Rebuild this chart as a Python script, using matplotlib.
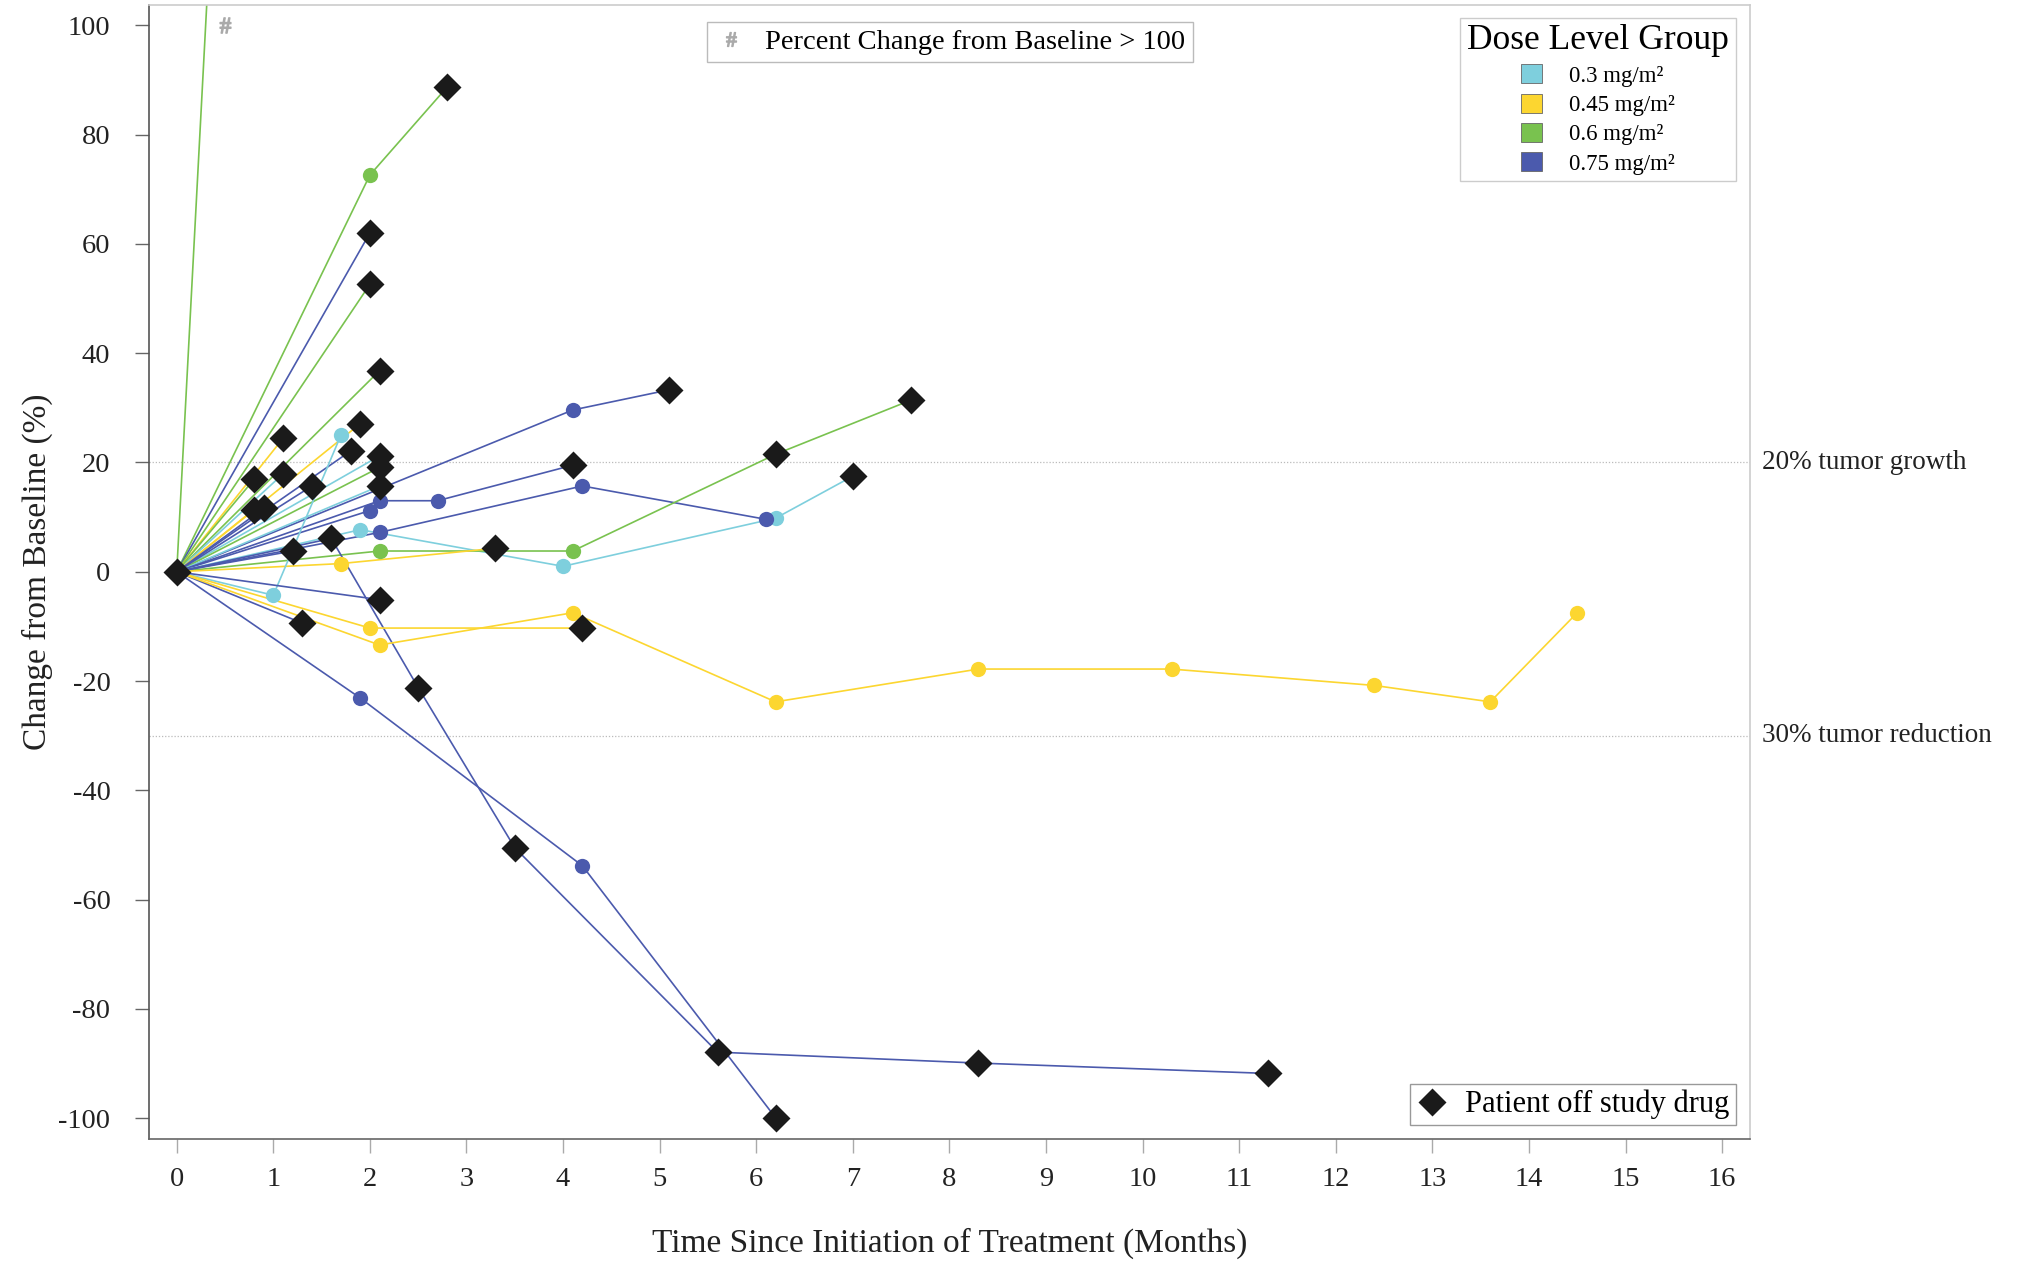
import numpy as np
import matplotlib
matplotlib.use('Agg')
import matplotlib.pyplot as plt
from matplotlib.lines import Line2D
from matplotlib.patches import Patch
import matplotlib.transforms as mtransforms

plt.rcParams['font.family'] = ['Liberation Serif', 'DejaVu Serif']
plt.rcParams['axes.unicode_minus'] = False
plt.rcParams['mathtext.fontset'] = 'custom'
plt.rcParams['mathtext.rm'] = 'Liberation Serif'

# Dose groups and colours
dose_labels = ['0.3 mg/m²', '0.45 mg/m²', '0.6 mg/m²', '0.75 mg/m²']
dose_colors = ['#7ecfdd', '#fcd630', '#79c24f', '#4b5aad']

# One entry per patient: dose group index, visit months, % change, first off-drug visit
pt_dose = [2, 2, 3, 2, 2, 3, 1, 1, 3, 0, 2, 0, 2, 0, 3, 1,
           3, 3, 3, 0, 3, 2, 3, 3, 1, 0, 3, 3, 1, 1, 3]
pt_months = [
    [0, 0.5], [0, 2.0, 2.8], [0, 2.0], [0, 2.0], [0, 2.1], [0, 4.1, 5.1],
    [0, 1.9], [0, 1.1], [0, 1.8], [0, 2.1], [0, 2.1], [0, 1.1], [0, 0.8],
    [0, 2.1], [0, 1.4], [0, 0.8], [0, 0.9], [0, 2.1, 2.7, 4.1], [0, 2.0],
    [0, 1.9, 4.0, 6.2, 7.0], [0, 2.1, 4.2, 6.1], [0, 2.1, 4.1, 6.2, 7.6],
    [0, 1.6, 2.5, 3.5, 5.6, 8.3, 11.3], [0, 1.2], [0, 1.7, 3.3],
    [0, 1.0, 1.7], [0, 2.1], [0, 1.3], [0, 2.0, 4.2],
    [0, 2.1, 4.1, 6.2, 8.3, 10.3, 12.4, 13.6, 14.5], [0, 1.9, 4.2, 6.2]]
pt_change = [
    [0, 167], [0, 72.6, 88.7], [0, 62.0], [0, 52.6], [0, 36.8], [0, 29.6, 33.3],
    [0, 27.1], [0, 24.4], [0, 22.1], [0, 21.2], [0, 19.1], [0, 17.9], [0, 16.9],
    [0, 15.7], [0, 15.7], [0, 11.3], [0, 11.6], [0, 13.0, 13.0, 19.5], [0, 11.2],
    [0, 7.7, 1.0, 9.8, 17.5], [0, 7.2, 15.7, 9.6], [0, 3.8, 3.8, 21.5, 31.4],
    [0, 6.1, -21.2, -50.5, -87.9, -89.9, -91.8], [0, 3.8], [0, 1.5, 4.3],
    [0, -4.3, 25.0], [0, -5.1], [0, -9.4], [0, -10.3, -10.3],
    [0, -13.4, -7.5, -23.8, -17.8, -17.8, -20.8, -23.8, -7.5], [0, -23.1, -53.8, -99.9]]
pt_off_from = [None, 2, 1, 1, 1, 2, 1, 1, 1, 1, 1, 1, 1, 1, 1, 1,
               1, 3, None, 4, None, 3, 1, 1, 2, None, 1, 1, 2, None, 3]

# values above 100 are shown at 100 with a '#'
cap = 100
HASH = '$\\mathrm{\\#}$'

fig = plt.figure(figsize=(20.23, 12.67), dpi=100)
ax = fig.add_axes([0.0738, 0.101, 0.7913, 0.895])

for d, t, v, off in zip(pt_dose, pt_months, pt_change, pt_off_from):
    t = np.array(t, dtype=float)
    v = np.array(v, dtype=float)
    col = dose_colors[d]
    ax.plot(t, v, color=col, lw=1.2, zorder=2)
    n_on = len(t) if off is None else off
    on = np.arange(1, n_on)
    on = on[v[on] <= cap]
    ax.plot(t[on], v[on], 'o', color=col, ms=11, mec='none', zorder=3)
    if off is not None:
        ax.plot(t[off:], v[off:], 'D', color='#1a1a1a', ms=14.5, mec='none', zorder=4)
    big = np.where(v > cap)[0]
    ax.plot(t[big], np.full(len(big), cap), marker=HASH, ls='none',
            color='#aaaaaa', ms=11, zorder=4)

# baseline marker
ax.plot([0], [0], 'D', color='#1a1a1a', ms=14.5, mec='none', zorder=5)

# reference lines
ax.axhline(20, color='#bbbbbb', lw=0.9, ls=(0, (1, 1.5)), zorder=1)
ax.axhline(-30, color='#bbbbbb', lw=0.9, ls=(0, (1, 1.5)), zorder=1)
trans = mtransforms.blended_transform_factory(ax.transAxes, ax.transData)
ax.text(1.0075, 20, '20% tumor growth', transform=trans, fontsize=19.5,
        va='center', ha='left', color='#222222')
ax.text(1.0075, -30, '30% tumor reduction', transform=trans, fontsize=19.5,
        va='center', ha='left', color='#222222')

ax.set_xlim(-0.284, 16.29)
ax.set_ylim(-103.8, 103.7)
ax.set_xticks(np.arange(0, 17, 1))
ax.set_yticks(np.arange(-100, 101, 20))
ax.tick_params(axis='both', direction='out', length=10, width=1.0,
               labelsize=20.5, labelcolor='#222222')
ax.tick_params(axis='x', color='#aaaaaa', pad=10)
ax.tick_params(axis='y', color='#666666', pad=18)
ax.spines['left'].set_color('#555555')
ax.spines['bottom'].set_color('#666666')
ax.spines['top'].set_color('#cccccc')
ax.spines['right'].set_color('#cccccc')
for s in ax.spines.values():
    s.set_linewidth(1.2)

ax.set_xlabel('Time Since Initiation of Treatment (Months)', fontsize=24,
              color='#222222', labelpad=26)
ax.set_ylabel('Change from Baseline (%)', fontsize=24, color='#222222', labelpad=4)

# legends
dose_handles = [Patch(facecolor=c, edgecolor='#666666', lw=0.6) for c in dose_colors]
leg1 = ax.legend(dose_handles, dose_labels, title='Dose Level Group',
                 loc='upper right', bbox_to_anchor=(0.991, 0.989), borderaxespad=0,
                 fontsize=16.5, title_fontsize=25.5, fancybox=False, edgecolor='#cccccc',
                 handlelength=0.9, handleheight=0.9, handletextpad=1.2,
                 labelspacing=0.3, borderpad=0.3, framealpha=1)
leg1.get_frame().set_linewidth(1.0)
ax.add_artist(leg1)

hash_h = Line2D([], [], marker=HASH, ls='none', color='#aaaaaa', ms=10)
leg2 = ax.legend([hash_h], ['Percent Change from Baseline > 100'],
                 loc='upper center', bbox_to_anchor=(0.5, 0.985), borderaxespad=0,
                 fontsize=20.5, fancybox=False, edgecolor='#bbbbbb', handlelength=1.2,
                 handletextpad=0.6, borderpad=0.25, framealpha=1)
leg2.get_frame().set_linewidth(1.0)
ax.add_artist(leg2)

dia_h = Line2D([], [], marker='D', ls='none', color='#1a1a1a', ms=14, mec='none')
leg3 = ax.legend([dia_h], ['Patient off study drug'],
                 loc='lower right', bbox_to_anchor=(0.991, 0.012), borderaxespad=0,
                 fontsize=22, fancybox=False, edgecolor='#999999', handlelength=1.0,
                 handletextpad=0.6, borderpad=0.2, framealpha=1)
leg3.get_frame().set_linewidth(1.0)

fig.savefig('out.png', dpi=100)
